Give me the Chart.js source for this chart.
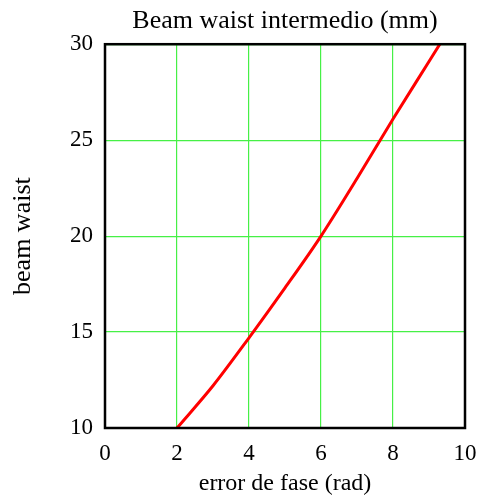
<!DOCTYPE html>
<html>
<head>
<meta charset="utf-8">
<script src="https://cdn.jsdelivr.net/npm/chart.js@4"></script>
<style>
  html, body { margin: 0; padding: 0; background: #fff; }
  #wrap { width: 483px; height: 498px; }
</style>
</head>
<body>
<div id="wrap"><canvas id="waistChart" width="483" height="498"></canvas></div>
<script>
// ================= DATA =================
const phaseError = [2, 3, 4, 5, 6, 7, 8, 9, 9.3];
const beamWaist = [10, 12.2, 14.7, 17.3, 20.0, 23.0, 26.1, 29.1, 30];
const xTicks = [0, 2, 4, 6, 8, 10];
const yTicks = [10, 15, 20, 25, 30];

const FONT = "'Liberation Serif', 'Times New Roman', serif";
const GRID = "rgb(70, 240, 70)";

// ================= FRAME =================
// box round the plot area (top and right sides as well)
const framePlugin = {
  id: "frame",
  afterDatasetsDraw(chart) {
    const a = chart.chartArea;
    const ctx = chart.ctx;
    ctx.save();
    ctx.strokeStyle = "#000";
    ctx.lineWidth = 2.5;
    ctx.strokeRect(a.left, a.top, a.right - a.left, a.bottom - a.top);
    ctx.restore();
  }
};

// ================= CHART =================
const ctx = document.getElementById("waistChart").getContext("2d");

new Chart(ctx, {
  type: "line",
  data: {
    datasets: [{
      data: phaseError.map((x, i) => ({ x: x, y: beamWaist[i] })),
      borderColor: "#ff0000",
      borderWidth: 3,
      pointRadius: 0,
      cubicInterpolationMode: "monotone",
      fill: false
    }]
  },
  options: {
    responsive: false,
    animation: false,
    layout: { padding: { left: 0, right: 18, top: 0, bottom: 0 } },
    scales: {
      x: {
        type: "linear",
        min: 0,
        max: 10,
        afterBuildTicks: s => { s.ticks = xTicks.map(v => ({ value: v })); },
        afterFit: s => {
          s.height = 70;
          s.paddingRight = 0;
        },
        grid: { color: GRID, lineWidth: 1.2, drawTicks: false },
        border: { display: false },
        ticks: { color: "#000", padding: 12, maxRotation: 0, font: { family: FONT, size: 23 } },
        title: {
          display: true,
          text: "error de fase (rad)",
          color: "#000",
          padding: { top: 0, bottom: 0 },
          font: { family: FONT, size: 24 }
        }
      },
      y: {
        min: 10,
        max: 30,
        afterBuildTicks: s => { s.ticks = yTicks.map(v => ({ value: v })); },
        afterFit: s => { s.width = 105; },
        grid: { color: GRID, lineWidth: 1.2, drawTicks: false },
        border: { display: false },
        ticks: { color: "#000", padding: 12, font: { family: FONT, size: 23 } },
        title: {
          display: true,
          text: "beam waist",
          color: "#000",
          padding: { top: 8, bottom: 0 },
          font: { family: FONT, size: 26 }
        }
      }
    },
    plugins: {
      legend: { display: false },
      tooltip: { enabled: false },
      title: {
        display: true,
        fullSize: false,
        text: "Beam waist intermedio (mm)",
        color: "#000",
        padding: { top: 6, bottom: 7 },
        font: { family: FONT, size: 26, weight: "normal" }
      }
    }
  },
  plugins: [framePlugin]
});
</script>
</body>
</html>
